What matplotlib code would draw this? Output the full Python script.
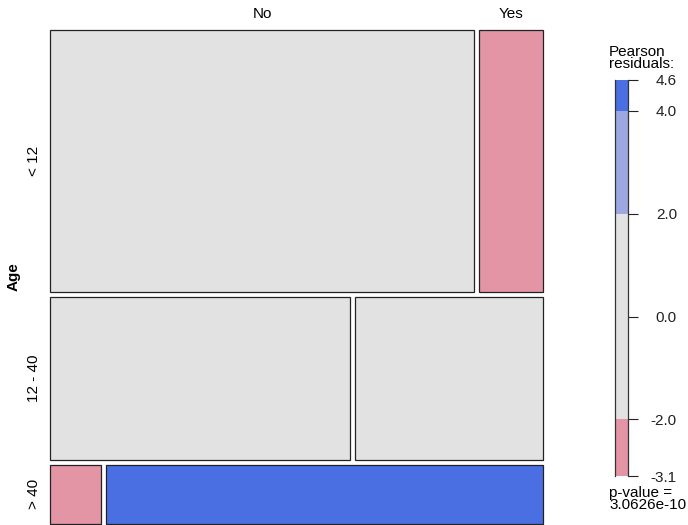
import numpy as np
import matplotlib
matplotlib.use("Agg")
import matplotlib.pyplot as plt
from matplotlib.patches import Rectangle

plt.rcParams['font.family'] = ['Liberation Sans', 'DejaVu Sans']

# counts
age_levels = ["< 12", "12 - 40", "> 40"]
outcome_levels = ["No", "Yes"]
counts_no = [73, 32, 2]
counts_yes = [11, 20, 17]

# legend scale as printed
legend_ticks = [4.6, 4.0, 2.0, 0.0, -2.0, -3.1]
legend_labels = ["4.6", "4.0", "2.0", "0.0", "-2.0", "-3.1"]
p_value_text = "3.0626e-10"

counts = np.array([counts_no, counts_yes]).T.astype(float)
expected = counts.sum(1, keepdims=True) * counts.sum(0, keepdims=True) / counts.sum()
resid = (counts - expected) / np.sqrt(expected)

GREY = "#E2E2E2"
PINK = "#E495A5"
LBLUE = "#9DA8E2"
DBLUE = "#4A6FE3"
DRED = "#D33F6A"
FS = 11


def shade(r):
    if r > 4:
        return DBLUE
    if r > 2:
        return LBLUE
    if r < -4:
        return DRED
    if r < -2:
        return PINK
    return GREY


W, H = 688, 525
fig = plt.figure(figsize=(W / 100, H / 100), dpi=100)

# mosaic area in pixels
mx0, mx1, my0, my1 = 50, 543, 30, 524
ax = fig.add_axes([mx0 / W, 1 - my1 / H, (mx1 - mx0) / W, (my1 - my0) / H])
ax.set_xlim(0, mx1 - mx0)
ax.set_ylim(my1 - my0, 0)
ax.axis("off")

gap = 5
row_tot = counts.sum(1)
avail_h = (my1 - my0) - gap * (len(age_levels) - 1)
heights = avail_h * row_tot / row_tot.sum()
avail_w = (mx1 - mx0) - gap * (len(outcome_levels) - 1)

y = 0
for i, lab in enumerate(age_levels):
    widths = avail_w * counts[i] / row_tot[i]
    x = 0
    for j in range(len(outcome_levels)):
        ax.add_patch(Rectangle((x, y), widths[j], heights[i], facecolor=shade(resid[i, j]),
                               edgecolor="#222222", linewidth=0.9, clip_on=False))
        if i == 0:
            ax.text(x + widths[j] / 2, -16, outcome_levels[j], ha="center", va="center",
                    fontsize=FS, clip_on=False)
        x += widths[j] + gap
    ax.text(-16, y + heights[i] / 2, lab, rotation=90, ha="center", va="center",
            fontsize=FS, clip_on=False)
    y += heights[i] + gap

ax.text(-36, (my1 - my0) / 2, "Age", rotation=90, ha="center", va="center",
        fontsize=FS, fontweight="bold", clip_on=False)

# legend bar
lx0, lx1, ly0, ly1 = 615, 628, 80, 476
lax = fig.add_axes([lx0 / W, 1 - ly1 / H, (lx1 - lx0) / W, (ly1 - ly0) / H])
lo, hi = legend_ticks[-1], legend_ticks[0]
lax.set_xlim(0, 1)
lax.set_ylim(lo, hi)
for a, b, c in [(lo, -2, PINK), (-2, 2, GREY), (2, 4, LBLUE), (4, hi, DBLUE)]:
    lax.axhspan(a, b, color=c, linewidth=0)
lax.set_xticks([])
lax.yaxis.tick_right()
lax.set_yticks(legend_ticks)
lax.set_yticklabels(legend_labels, fontsize=FS, ha="right")
lax.tick_params(axis="y", length=7.2, width=0.8, pad=28, colors="#222222", labelcolor="#222222")
for s in ["top", "bottom"]:
    lax.spines[s].set_visible(False)
for s in ["left", "right"]:
    lax.spines[s].set_linewidth(0.9)
    lax.spines[s].set_color("#333333")

fig.text(609 / W, 1 - 58 / H, "Pearson\nresiduals:", ha="left", va="center",
         fontsize=FS, linespacing=0.85)
fig.text(609 / W, 1 - 499 / H, "p-value =\n" + p_value_text, ha="left", va="center",
         fontsize=FS, linespacing=0.85)

fig.savefig("out.png", dpi=100)
